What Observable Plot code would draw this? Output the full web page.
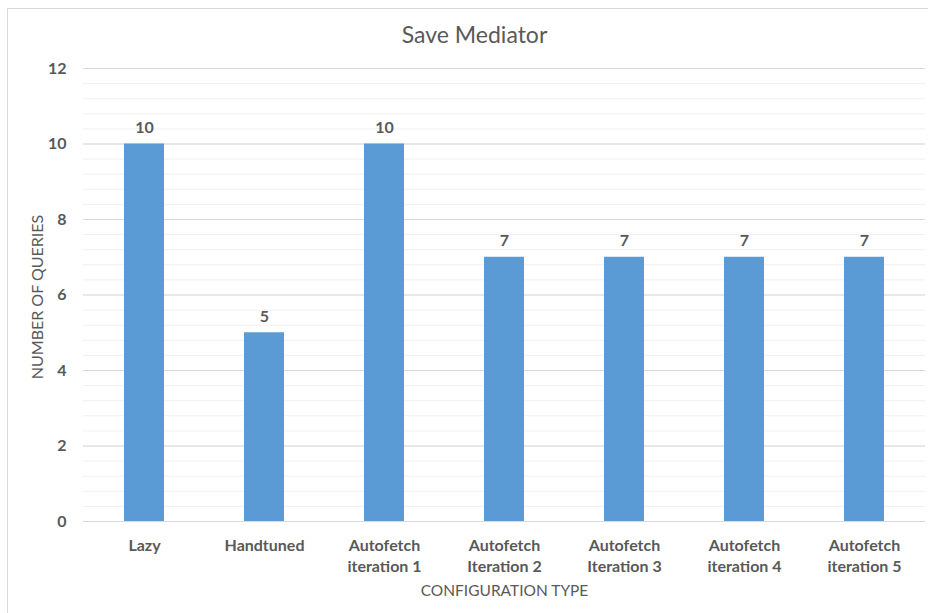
<!DOCTYPE html>
<html>
<head>
<meta charset="utf-8">
<script src="https://cdn.jsdelivr.net/npm/d3@7"></script>
<script src="https://cdn.jsdelivr.net/npm/@observablehq/plot@0.6"></script>
<style>
  html, body { margin: 0; padding: 0; background: #fff; }
  #chart { position: relative; width: 928px; height: 613px; overflow: hidden; }
  #frame { position: absolute; left: 7px; top: 8px; width: 960px; height: 640px;
           border-left: 1px solid #d9d9d9; border-top: 1px solid #d9d9d9; }
  #chart svg { position: absolute; left: 0; top: 0; }
</style>
</head>
<body>
<div id="chart"><div id="frame"></div></div>
<script>
// Configurations and the number of queries each one issues
const categories = [
  "Lazy",
  "Handtuned",
  "Autofetch\niteration 1",
  "Autofetch\nIteration 2",
  "Autofetch\nIteration 3",
  "Autofetch\niteration 4",
  "Autofetch\niteration 5"
];
const queries = [10, 5, 10, 7, 7, 7, 7];
const yTicks = [0, 2, 4, 6, 8, 10, 12];

const rows = categories.map((c, i) => ({category: c, value: queries[i]}));
const minorGrid = d3.range(0, 12.001, 0.4);
const ink = "#595959";

const chart = Plot.plot({
  width: 928,
  height: 613,
  marginLeft: 83,
  marginRight: 3,
  marginTop: 68,
  marginBottom: 92,
  style: {fontFamily: "Lato, 'Open Sans', sans-serif", color: ink, background: "transparent"},
  x: {domain: categories, paddingInner: 0.667, paddingOuter: 0.333, label: null},
  y: {domain: [0, 12], label: null},
  marks: [
    Plot.ruleY(minorGrid, {stroke: "#f0f0f0", strokeWidth: 1}),
    Plot.ruleY(yTicks, {stroke: "#d9d9d9", strokeWidth: 1}),
    Plot.barY(rows, {x: "category", y: "value", fill: "#5b9bd5"}),
    Plot.ruleY([0], {stroke: "#d9d9d9", strokeWidth: 1}),
    Plot.text(rows, {x: "category", y: "value", text: d => String(d.value),
      dy: -16, fontWeight: "bold", fontSize: 16, fill: ink}),
    Plot.axisY({ticks: yTicks, tickSize: 0, tickPadding: 17, fontWeight: "bold",
      fontSize: 16, label: null}),
    Plot.axisX({tickSize: 0, tickPadding: 14, fontWeight: "bold", fontSize: 16,
      lineHeight: 1.32, label: null}),
    Plot.text(["NUMBER OF QUERIES"], {frameAnchor: "left", dx: -46, dy: 2, rotate: -90,
      textAnchor: "middle", lineAnchor: "middle", fontSize: 16, fill: ink}),
    Plot.text(["CONFIGURATION TYPE"], {frameAnchor: "bottom", dy: 70,
      textAnchor: "middle", lineAnchor: "middle", fontSize: 15.5, fill: ink}),
    Plot.text(["Save Mediator"], {frameAnchor: "top", dy: -33, dx: -30,
      lineAnchor: "middle", fontSize: 23, fill: ink})
  ]
});

document.getElementById("chart").appendChild(chart);
</script>
</body>
</html>
